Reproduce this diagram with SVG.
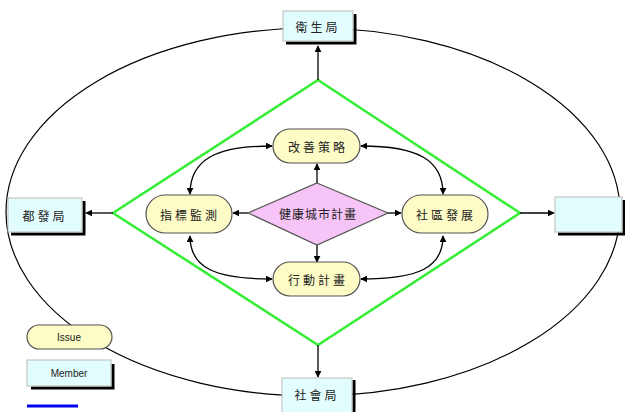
<svg xmlns="http://www.w3.org/2000/svg" width="625" height="412" viewBox="0 0 625 412">
<defs>
<marker id="ah" viewBox="0 0 10 10" refX="9" refY="5" markerWidth="7" markerHeight="7" orient="auto-start-reverse" markerUnits="userSpaceOnUse">
<path d="M0,0 L10,5 L0,10 z" fill="#000"/>
</marker>
<style>
.lbl{font-family:"Noto Sans CJK TC","Noto Sans CJK SC",sans-serif;font-size:12px;fill:#222;text-anchor:middle;dominant-baseline:central;letter-spacing:3px}
.leg{font-family:"Liberation Sans",Arial,sans-serif;font-size:10px;fill:#222;text-anchor:middle;dominant-baseline:central}
.issue{fill:#fdfbc6;stroke:#555;stroke-width:1.2}
.member{fill:#e2fdfd;stroke:#bbb;stroke-width:1}
.shadow{fill:none;stroke:#000;stroke-width:3}
.conn{fill:none;stroke:#000;stroke-width:1.3}
</style>
</defs>
<rect width="625" height="412" fill="#fff"/>
<g id="ellipse"><ellipse cx="313" cy="212" rx="307" ry="184" fill="none" stroke="#000" stroke-width="1.2"/></g>
<g id="green-diamond"><polygon points="318,80 520,213 318,345 113,213" fill="none" stroke="#33ee33" stroke-width="2.5"/></g>
<g id="connectors">
<line class="conn" x1="318" y1="80" x2="318" y2="46" marker-end="url(#ah)"/>
<line class="conn" x1="113" y1="213" x2="86" y2="213" marker-end="url(#ah)"/>
<line class="conn" x1="520" y1="213" x2="554" y2="213" marker-end="url(#ah)"/>
<line class="conn" x1="318" y1="345" x2="318" y2="377" marker-end="url(#ah)"/>
<line class="conn" x1="317" y1="184" x2="317" y2="164" marker-end="url(#ah)"/>
<line class="conn" x1="317" y1="244" x2="317" y2="262" marker-end="url(#ah)"/>
<line class="conn" x1="248" y1="213" x2="233" y2="213" marker-end="url(#ah)"/>
<line class="conn" x1="387" y1="213" x2="401" y2="213" marker-end="url(#ah)"/>
<path class="conn" d="M272,146 C215,146 190,160 190,194" marker-start="url(#ah)" marker-end="url(#ah)"/>
<path class="conn" d="M361,146 C418,146 443,160 443,194" marker-start="url(#ah)" marker-end="url(#ah)"/>
<path class="conn" d="M190,236 C190,268 215,279 272,279" marker-start="url(#ah)" marker-end="url(#ah)"/>
<path class="conn" d="M443,236 C443,268 418,279 361,279" marker-start="url(#ah)" marker-end="url(#ah)"/>
</g>
<g id="n-top">
<polyline class="shadow" points="355,14 355,43 286,43"/>
<rect class="member" x="283" y="11" width="70" height="30"/>
<text class="lbl" x="318" y="26">衛生局</text>
</g>
<g id="n-left">
<polyline class="shadow" points="84,201 84,234 11,234"/>
<rect class="member" x="8" y="198" width="74" height="34"/>
<text class="lbl" x="45" y="215">都發局</text>
</g>
<g id="n-right">
<polyline class="shadow" points="624,200 624,234 558,234"/>
<rect class="member" x="555" y="197" width="67" height="35"/>
</g>
<g id="n-bottom">
<polyline class="shadow" points="354,380 354,412"/>
<rect class="member" x="282" y="378" width="70" height="36"/>
<text class="lbl" x="317" y="394">社會局</text>
</g>
<g id="n-center">
<polygon points="317,183 388,213 317,245 248,213" fill="#f6c4f6" stroke="#555" stroke-width="1.2"/>
<text class="lbl" x="318" y="213" style="letter-spacing:1px">健康城市計畫</text>
</g>
<g id="i-top">
<rect class="issue" x="273" y="129" width="87" height="34" rx="17"/>
<text class="lbl" x="318" y="146">改善策略</text>
</g>
<g id="i-left">
<rect class="issue" x="146" y="195" width="86" height="38" rx="19"/>
<text class="lbl" x="190" y="214">指標監測</text>
</g>
<g id="i-right">
<rect class="issue" x="402" y="195" width="86" height="38" rx="19"/>
<text class="lbl" x="446" y="214">社區發展</text>
</g>
<g id="i-bottom">
<rect class="issue" x="273" y="262" width="87" height="34" rx="17"/>
<text class="lbl" x="318" y="279">行動計畫</text>
</g>
<g id="legend">
<rect class="issue" x="27" y="325" width="85" height="24" rx="12"/>
<text class="leg" x="69" y="337">Issue</text>
<polyline class="shadow" points="113,364 113,388 31,388"/>
<rect class="member" x="27" y="360" width="84" height="26"/>
<text class="leg" x="69" y="373">Member</text>
<line x1="27" y1="406" x2="78" y2="406" stroke="#0000ee" stroke-width="3"/>
</g>
</svg>
